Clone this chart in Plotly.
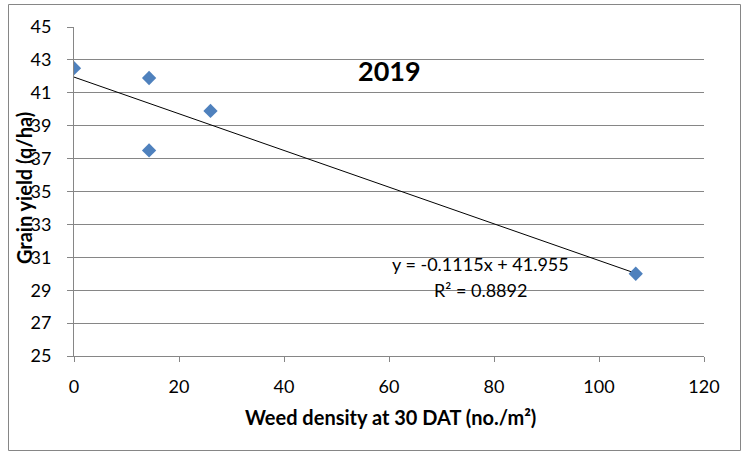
import plotly.graph_objects as go

# Data
weed_density = [0, 14.3, 14.3, 26, 107]
grain_yield = [42.5, 41.9, 37.5, 39.9, 30.0]
slope = -0.1115
intercept = 41.955
r_squared = 0.8892
x_ticks = [0, 20, 40, 60, 80, 100, 120]
y_ticks = [25, 27, 29, 31, 33, 35, 37, 39, 41, 43, 45]

W, H = 743, 452
ml, mr, mt, mb = 74, 39, 27, 96
pw, ph = W - ml - mr, H - mt - mb

x_line = [min(weed_density), max(weed_density)]
y_line = [slope * v + intercept for v in x_line]

font_family = "Lato, 'Open Sans', sans-serif"

fig = go.Figure()
fig.add_trace(go.Scatter(x=x_line, y=y_line, mode="lines",
                         line=dict(color="black", width=1), showlegend=False, hoverinfo="skip"))
fig.add_trace(go.Scatter(x=weed_density, y=grain_yield, mode="markers",
                         marker=dict(symbol="diamond", size=11, color="#4F81BD",
                                     line=dict(width=0)), showlegend=False))

def px_x(p):
    return (p - ml) / pw

def px_y(p):
    return (H - mb - p) / ph

fig.update_layout(
    width=W, height=H,
    margin=dict(l=ml, r=mr, t=mt, b=mb),
    paper_bgcolor="white", plot_bgcolor="white",
    font=dict(family=font_family, size=18, color="black"),
    xaxis=dict(range=[0, 120], tickvals=x_ticks, showgrid=False, zeroline=False,
               showline=True, linecolor="#868686", linewidth=1,
               ticks="outside", ticklen=5, tickcolor="#868686",
               ticklabelstandoff=9, tickfont=dict(size=18)),
    yaxis=dict(range=[25, 45], tickvals=y_ticks, showgrid=True, gridcolor="#868686",
               gridwidth=1, zeroline=False, showline=True, linecolor="#868686",
               linewidth=1, ticks="outside", ticklen=6, tickcolor="#868686",
               ticklabelstandoff=12, tickfont=dict(size=18)),
    shapes=[dict(type="rect", xref="paper", yref="paper",
                 x0=px_x(8.5), x1=px_x(740.5), y0=px_y(450.5), y1=px_y(4.5),
                 line=dict(color="#868686", width=1), fillcolor="rgba(0,0,0,0)")],
    annotations=[
        dict(text="<b>2019</b>", xref="paper", yref="paper", x=px_x(389), y=px_y(70),
             showarrow=False, font=dict(size=27), xanchor="center", yanchor="middle"),
        dict(text="<b>Grain yield (q/ha)</b>", xref="paper", yref="paper",
             x=px_x(24), y=px_y(188), showarrow=False, textangle=-90,
             font=dict(size=20), xanchor="center", yanchor="middle"),
        dict(text="<b>Weed density at 30 DAT (no./m²)</b>", xref="paper", yref="paper",
             x=px_x(390), y=px_y(417), showarrow=False,
             font=dict(size=20), xanchor="center", yanchor="middle"),
        dict(text=f"y = {slope}x + {intercept}", xref="paper", yref="paper",
             x=px_x(480), y=px_y(264), showarrow=False,
             font=dict(size=18), xanchor="center", yanchor="middle"),
        dict(text=f"R² = {r_squared}", xref="paper", yref="paper",
             x=px_x(480), y=px_y(290), showarrow=False,
             font=dict(size=18), xanchor="center", yanchor="middle"),
    ],
)

fig.write_html("out.html", config={"displayModeBar": False},
               post_script="document.body.style.margin='0';document.body.style.padding='0';")
